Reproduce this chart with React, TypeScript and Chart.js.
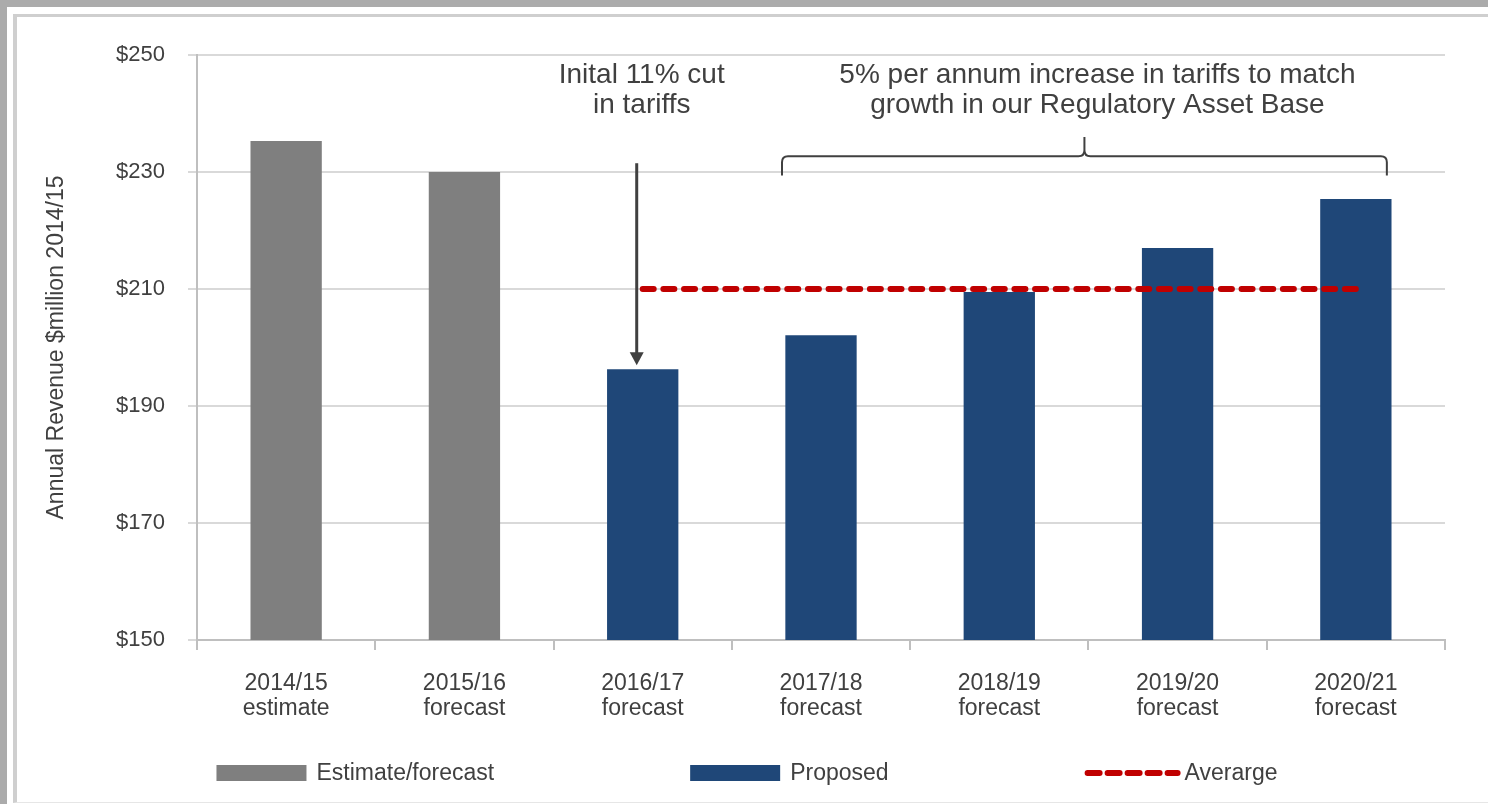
import React, { useEffect, useRef } from "react";
import { Chart, registerables } from "chart.js";
Chart.register(...registerables);

const FONT = '"Liberation Sans", Arial, sans-serif';
const TEXT = "#404040";

const categories = [
  ["2014/15", "estimate"],
  ["2015/16", "forecast"],
  ["2016/17", "forecast"],
  ["2017/18", "forecast"],
  ["2018/19", "forecast"],
  ["2019/20", "forecast"],
  ["2020/21", "forecast"],
];
const estimateValues = [235.3, 230.0, null, null, null, null, null];
const proposedValues = [null, null, 196.3, 202.1, 209.5, 217.0, 225.4];
const averageValues = [null, null, 210, 210, 210, 210, 210];
const yTicks = [150, 170, 190, 210, 230, 250];
const seriesLabels = ["Estimate/forecast", "Proposed", "Averarge"];
const yTitle = "Annual Revenue $million 2014/15";
const cutNote = ["Inital 11% cut", "in tariffs"];
const growthNote = ["5% per annum increase in tariffs to match", "growth in our Regulatory Asset Base"];

const annotationPlugin = {
  id: "annotations",
  afterDraw(chart: any) {
    const ctx = chart.ctx;
    const xs = chart.scales.x;
    const ys = chart.scales.y;
    ctx.save();
    ctx.strokeStyle = TEXT;
    ctx.fillStyle = TEXT;
    // arrow
    const ax = xs.getPixelForValue(2) - 6;
    const aTop = ys.getPixelForValue(231.5);
    const aTip = ys.getPixelForValue(proposedValues[2] as number) - 4;
    ctx.lineWidth = 3;
    ctx.beginPath();
    ctx.moveTo(ax, aTop);
    ctx.lineTo(ax, aTip - 10);
    ctx.stroke();
    ctx.beginPath();
    ctx.moveTo(ax - 7, aTip - 13);
    ctx.lineTo(ax + 7, aTip - 13);
    ctx.lineTo(ax, aTip);
    ctx.closePath();
    ctx.fill();
    // brace
    const x1 = xs.getPixelForValue(3) - 39;
    const x2 = xs.getPixelForValue(6) + 31;
    const xm = (x1 + x2) / 2;
    const yH = ys.getPixelForValue(232.7);
    const yEnd = ys.getPixelForValue(229.4);
    const yTop = ys.getPixelForValue(236.0);
    const r = 6;
    ctx.lineWidth = 2;
    ctx.beginPath();
    ctx.moveTo(x1, yEnd);
    ctx.lineTo(x1, yH + r);
    ctx.quadraticCurveTo(x1, yH, x1 + r, yH);
    ctx.lineTo(xm - r, yH);
    ctx.quadraticCurveTo(xm, yH, xm, yH - r);
    ctx.lineTo(xm, yTop);
    ctx.moveTo(xm, yH - r);
    ctx.quadraticCurveTo(xm, yH, xm + r, yH);
    ctx.lineTo(x2 - r, yH);
    ctx.quadraticCurveTo(x2, yH, x2, yH + r);
    ctx.lineTo(x2, yEnd);
    ctx.stroke();
    // texts
    ctx.font = `28px ${FONT}`;
    ctx.textAlign = "center";
    ctx.textBaseline = "middle";
    const l1 = ys.getPixelForValue(246.6);
    const l2 = ys.getPixelForValue(241.45);
    const cx = xs.getPixelForValue(2) - 1;
    ctx.fillText(cutNote[0], cx, l1);
    ctx.fillText(cutNote[1], cx, l2);
    const gx = xm + 13;
    ctx.fillText(growthNote[0], gx, l1);
    ctx.fillText(growthNote[1], gx, l2);
    ctx.restore();
  },
};

const legendPlugin = {
  id: "customLegend",
  afterDraw(chart: any) {
    const ctx = chart.ctx;
    ctx.save();
    ctx.font = `23px ${FONT}`;
    ctx.textBaseline = "middle";
    ctx.textAlign = "left";
    const sw = 90;
    const gapText = 10;
    const gapItem = 196;
    const items = chart.data.datasets.map((ds: any) => ({
      label: ds.label,
      color: ds.type === "line" ? ds.borderColor : ds.backgroundColor,
      isLine: ds.type === "line",
    }));
    const widths = items.map((it: any) => sw + gapText + ctx.measureText(it.label).width);
    const total = widths.reduce((a: number, b: number) => a + b, 0) + gapItem * (items.length - 1);
    let x = chart.width / 2 + 3 - total / 2;
    const y = chart.chartArea.bottom + 133;
    items.forEach((it: any, i: number) => {
      if (it.isLine) {
        ctx.strokeStyle = it.color;
        ctx.lineWidth = 6;
        ctx.lineCap = "round";
        ctx.setLineDash([12, 8]);
        ctx.beginPath();
        ctx.moveTo(x + 3, y);
        ctx.lineTo(x + sw + 3, y);
        ctx.stroke();
        ctx.setLineDash([]);
      } else {
        ctx.fillStyle = it.color;
        ctx.fillRect(x, y - 8, sw, 16);
      }
      ctx.fillStyle = TEXT;
      ctx.fillText(it.label, x + sw + gapText, y + 1);
      x += widths[i] + gapItem;
    });
    ctx.restore();
  },
};

export default function App() {
  const ref = useRef<HTMLCanvasElement>(null);
  useEffect(() => {
    if (!ref.current) return;
    const chart = new Chart(ref.current, {
      type: "bar",
      data: {
        labels: categories as any,
        datasets: [
          {
            type: "bar",
            label: seriesLabels[0],
            data: estimateValues as any,
            backgroundColor: "#7f7f7f",
            grouped: false,
            categoryPercentage: 1,
            barPercentage: 0.4,
            order: 2,
          } as any,
          {
            type: "bar",
            label: seriesLabels[1],
            data: proposedValues as any,
            backgroundColor: "#1f4778",
            grouped: false,
            categoryPercentage: 1,
            barPercentage: 0.4,
            order: 1,
          } as any,
          {
            type: "line",
            label: seriesLabels[2],
            data: averageValues as any,
            borderColor: "#c00000",
            borderWidth: 6,
            borderDash: [11, 9.65],
            borderCapStyle: "round",
            pointRadius: 0,
            spanGaps: false,
            order: 0,
          } as any,
        ],
      },
      options: {
        animation: false,
        responsive: false,
        events: [],
        layout: { padding: { left: 0, top: 55, right: 43, bottom: 0 } },
        plugins: { legend: { display: false }, tooltip: { enabled: false } },
        scales: {
          x: {
            offset: true,
            grid: { display: true, drawOnChartArea: false, drawTicks: true, tickLength: 10, offset: true, color: "#bfbfbf", lineWidth: 2 },
            border: { display: true, color: "#bfbfbf", width: 2 },
            ticks: { color: TEXT, font: { family: FONT, size: 23, lineHeight: 1.05 }, padding: 22, maxRotation: 0, autoSkip: false },
            afterFit: (s: any) => { s.height = 164; },
          },
          y: {
            min: 150,
            max: 250,
            afterBuildTicks: (s: any) => { s.ticks = yTicks.map((v) => ({ value: v })); },
            grid: { color: "#d9d9d9", lineWidth: 2, tickLength: 9, drawTicks: true },
            border: { display: true, color: "#bfbfbf", width: 2 },
            ticks: { color: TEXT, font: { family: FONT, size: 22 }, padding: 23, callback: (v: any) => "$" + v },
            title: { display: true, text: yTitle, color: TEXT, font: { family: FONT, size: 23, lineHeight: 1.2 }, padding: { top: 43, bottom: 0 } },
            afterFit: (s: any) => { s.width = 197; },
          },
        },
      },
      plugins: [annotationPlugin, legendPlugin],
    });
    return () => chart.destroy();
  }, []);
  return (
    <div style={{ position: "fixed", left: 0, top: 0, width: 1488, height: 804, background: "#ababab", overflow: "hidden" }}>
      <div style={{ position: "absolute", left: 7, top: 7, right: 0, bottom: 0, background: "#ffffff" }} />
      <div style={{ position: "absolute", left: 13, top: 14, right: -4, bottom: 1, borderLeft: "4px solid #cfcfcf", borderTop: "3px solid #cfcfcf", borderBottom: "1px solid #e6e6e6" }} />
      <canvas ref={ref} width={1488} height={804} style={{ position: "absolute", left: 0, top: 0, width: 1488, height: 804 }} />
    </div>
  );
}
